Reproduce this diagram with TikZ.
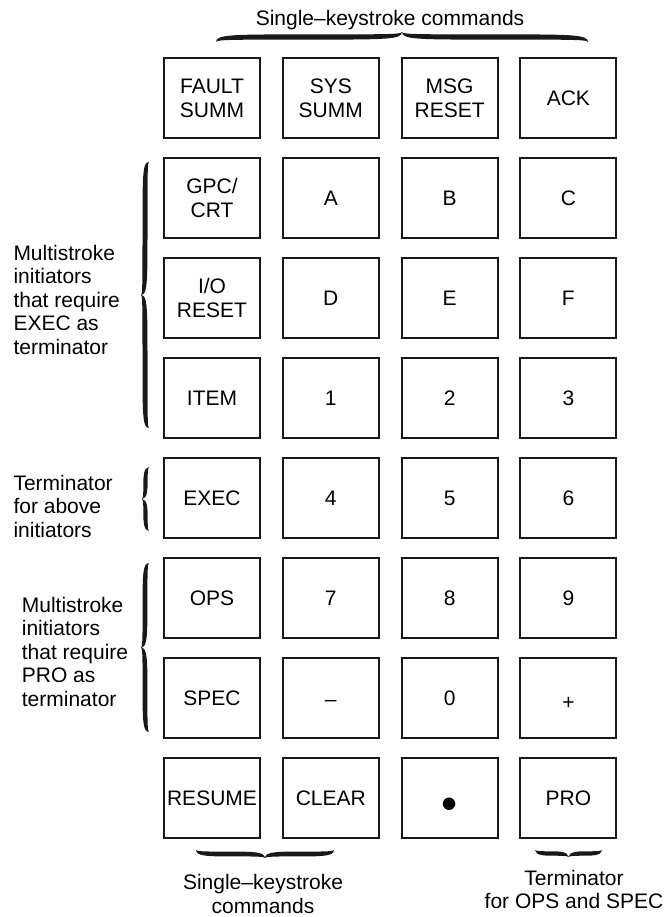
\documentclass[tikz,border=0pt]{standalone}
\usepackage{fontspec}
\setmainfont{Liberation Sans}
\begin{document}
\begin{tikzpicture}[x=1pt,y=-1pt,
  key/.style={draw=black!90, line width=2pt, minimum width=96pt, minimum height=80pt,
    inner sep=0pt, align=center, font=\fontsize{21}{23.5}\selectfont},
  one/.style={key, text height=15pt, text depth=0pt},
  lbl/.style={inner sep=0pt, font=\fontsize{21}{23.5}\selectfont},
  brace len/.store in=\brlen, brace amp/.store in=\bramp, brace thick/.store in=\brt,
  brace len=100, brace amp=8, brace thick=3,
  hbrace/.pic={
    \pgfmathsetmacro\bL{\brlen}
    \pgfmathsetmacro\ba{\bramp}
    \pgfmathsetmacro\bh{\bramp/2}
    \pgfmathsetmacro\bt{\brt/2}
    \pgfmathsetmacro\bq{1.6*\bramp}
    \fill[black!90] (0,0) .. controls (0,{-\bh-\bt}) and (\bq,{-\bh-\bt}) .. ({\bL/4},{-\bh-\bt})
      .. controls ({\bL/2-\bq},{-\bh-\bt}) and ({\bL/2},{-\bh-\bt}) .. ({\bL/2},{-\ba})
      .. controls ({\bL/2},{-\bh-\bt}) and ({\bL/2+\bq},{-\bh-\bt}) .. ({3*\bL/4},{-\bh-\bt})
      .. controls ({\bL-\bq},{-\bh-\bt}) and (\bL,{-\bh-\bt}) .. (\bL,0)
      .. controls (\bL,{-\bh+\bt}) and ({\bL-\bq},{-\bh+\bt}) .. ({3*\bL/4},{-\bh+\bt})
      .. controls ({\bL/2+\bq},{-\bh+\bt}) and ({\bL/2},{-\bh+\bt}) .. ({\bL/2},{-\ba})
      .. controls ({\bL/2},{-\bh+\bt}) and ({\bL/2-\bq},{-\bh+\bt}) .. ({\bL/4},{-\bh+\bt})
      .. controls (\bq,{-\bh+\bt}) and (0,{-\bh+\bt}) .. (0,0) -- cycle;
  }]
\useasboundingbox (0,0) rectangle (667,917);
% row 1
\node[key] (k11) at (212,98.3) {FAULT\\SUMM};
\node[key] (k12) at (330.8,98.3) {SYS\\SUMM};
\node[key] (k13) at (449.6,98.3) {MSG\\RESET};
\node[one] (k14) at (568.4,98.3) {ACK};
% row 2
\node[key] (k21) at (212,198.2) {GPC/\\CRT};
\node[one] (k22) at (330.8,198.2) {A};
\node[one] (k23) at (449.6,198.2) {B};
\node[one] (k24) at (568.4,198.2) {C};
% row 3
\node[key] (k31) at (212,298.2) {I/O\\RESET};
\node[one] (k32) at (330.8,298.2) {D};
\node[one] (k33) at (449.6,298.2) {E};
\node[one] (k34) at (568.4,298.2) {F};
% row 4
\node[one] (k41) at (212,398.1) {ITEM};
\node[one] (k42) at (330.8,398.1) {1};
\node[one] (k43) at (449.6,398.1) {2};
\node[one] (k44) at (568.4,398.1) {3};
% row 5
\node[one] (k51) at (212,498.0) {EXEC};
\node[one] (k52) at (330.8,498.0) {4};
\node[one] (k53) at (449.6,498.0) {5};
\node[one] (k54) at (568.4,498.0) {6};
% row 6
\node[one] (k61) at (212,597.95) {OPS};
\node[one] (k62) at (330.8,597.95) {7};
\node[one] (k63) at (449.6,597.95) {8};
\node[one] (k64) at (568.4,597.95) {9};
% row 7
\node[one] (k71) at (212,697.9) {SPEC};
\node[one] (k72) at (330.8,697.9) {\raisebox{-1pt}{–}};
\node[one] (k73) at (449.6,697.9) {0};
\node[one] (k74) at (568.4,697.9) {\raisebox{-4pt}{+}};
% row 8
\node[one] (k81) at (212,797.8) {RESUME};
\node[one] (k82) at (330.8,797.8) {CLEAR};
\node[one] (k83) at (449.6,797.8) {};
\node[lbl, anchor=base, font=\fontsize{46}{46}\selectfont] (k83dot) at (449.6,819.5) {•};
\node[one] (k84) at (568.4,797.8) {PRO};
% braces
\coordinate (tbL) at (216,42);
\coordinate (b1B) at (149,428);
\coordinate (b2B) at (149,531);
\coordinate (b3B) at (149,732);
\coordinate (bbR) at (334,850);
\coordinate (bpR) at (602,850);
\pic[brace len=372, brace amp=10, brace thick=5.2] at (tbL) {hbrace};
\pic[rotate=90, brace len=266, brace amp=8, brace thick=5] at (b1B) {hbrace};
\pic[rotate=90, brace len=64, brace amp=7, brace thick=4.2] at (b2B) {hbrace};
\pic[rotate=90, brace len=169, brace amp=8, brace thick=4.8] at (b3B) {hbrace};
\pic[rotate=180, brace len=138, brace amp=8, brace thick=4.8] at (bbR) {hbrace};
\pic[rotate=180, brace len=67, brace amp=7, brace thick=4.4] at (bpR) {hbrace};
% labels
\node[lbl, anchor=north] (ttop) at (390,10) {Single–keystroke commands};
\node[lbl, anchor=north west, align=left] (tm1) at (13.3,245) {Multistroke\\initiators\\that require\\EXEC as\\terminator};
\node[lbl, anchor=north west, align=left] (tterm) at (13.3,475) {Terminator\\for above\\initiators};
\node[lbl, anchor=north west, align=left] (tm2) at (21.7,597) {Multistroke\\initiators\\that require\\PRO as\\terminator};
\node[lbl, anchor=north, align=center] (tbot) at (263,874.5) {Single–keystroke\\commands};
\node[lbl, anchor=north, align=center] (tpro) at (574,870) {Terminator\\for OPS and SPEC};
\end{tikzpicture}
\end{document}
